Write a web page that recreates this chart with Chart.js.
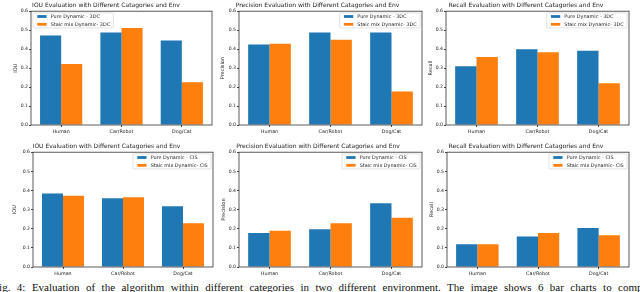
<!DOCTYPE html>
<html lang="en">
<head>
    <meta charset="UTF-8">
    <script src="https://cdn.jsdelivr.net/npm/chart.js"></script>
    <title>Evaluation bar charts</title>
    <style>
        body { margin: 0; width: 640px; height: 292px; background: #fff; overflow: hidden; position: relative; }
        canvas { position: absolute; }
        .caption {
            position: absolute; left: -7px; top: 281px; white-space: nowrap;
            font-family: "Liberation Serif", serif; font-size: 11px; word-spacing: 3.7px; color: #111;
        }
    </style>
</head>
<body>
    <canvas id="c1" width="213" height="136" style="left:0px;top:0px"></canvas>
    <canvas id="c2" width="210" height="136" style="left:213px;top:0px"></canvas>
    <canvas id="c3" width="207" height="136" style="left:423px;top:0px"></canvas>
    <canvas id="c4" width="214" height="137" style="left:0px;top:141px"></canvas>
    <canvas id="c5" width="209" height="137" style="left:214px;top:141px"></canvas>
    <canvas id="c6" width="207" height="137" style="left:423px;top:141px"></canvas>

    <div class="caption">Fig. 4: Evaluation of the algorithm within different categories in two different environment. The image shows 6 bar charts to compare</div>

    <script>
        // categories and values
        const categories = ['Human', 'Car/Robot', 'Dog/Cat'];

        const iou3dcPure  = [0.472, 0.488, 0.446];
        const iou3dcMix   = [0.322, 0.511, 0.226];
        const prec3dcPure = [0.425, 0.488, 0.488];
        const prec3dcMix  = [0.428, 0.449, 0.177];
        const rec3dcPure  = [0.310, 0.399, 0.392];
        const rec3dcMix   = [0.359, 0.383, 0.220];

        const iouCisPure  = [0.384, 0.359, 0.318];
        const iouCisMix   = [0.372, 0.365, 0.229];
        const precCisPure = [0.178, 0.197, 0.333];
        const precCisMix  = [0.190, 0.229, 0.257];
        const recCisPure  = [0.119, 0.159, 0.204];
        const recCisMix   = [0.119, 0.178, 0.166];

        const yMax = 0.6;
        const yStep = 0.1;

        const BLUE = '#1f77b4';
        const ORANGE = '#ff7f0e';
        const FONT = 'DejaVu Sans';

        // black frame round the plot area (matplotlib spines)
        const frame = {
            id: 'frame',
            afterDatasetsDraw(chart) {
                const { ctx, chartArea: a } = chart;
                ctx.save();
                ctx.strokeStyle = '#333';
                ctx.lineWidth = 0.8;
                ctx.strokeRect(a.left, a.top, a.right - a.left, a.bottom - a.top);
                ctx.restore();
            }
        };

        // matplotlib style legend box drawn inside the plot
        const boxLegend = {
            id: 'boxLegend',
            afterDatasetsDraw(chart, args, opts) {
                const { ctx, chartArea: a } = chart;
                const sets = chart.data.datasets;
                ctx.save();
                ctx.font = '4.9px "' + FONT + '"';
                const textW = Math.max(...sets.map(d => ctx.measureText(d.label).width));
                const w = textW + 21;
                const h = 15;
                const x = opts.corner === 'left' ? a.left + 2 : a.right - 2 - w;
                const y = a.top + 1.7;
                ctx.fillStyle = 'rgba(255,255,255,0.85)';
                ctx.strokeStyle = '#d0d0d0';
                ctx.lineWidth = 0.6;
                ctx.beginPath();
                ctx.roundRect(x, y, w, h, 1);
                ctx.fill();
                ctx.stroke();
                sets.forEach((d, i) => {
                    const cy = y + 3.6 + i * 7.8;
                    ctx.fillStyle = d.backgroundColor;
                    ctx.fillRect(x + 4.3, cy - 1.4, 9.3, 2.8);
                    ctx.fillStyle = '#222';
                    ctx.textBaseline = 'middle';
                    ctx.fillText(d.label, x + 17.7, cy + 0.2);
                });
                ctx.restore();
            }
        };

        function makeChart(id, title, yLabel, pure, mix, tag, corner, yWidth, yPad) {
            const ctx = document.getElementById(id).getContext('2d');
            return new Chart(ctx, {
                type: 'bar',
                data: {
                    labels: categories,
                    datasets: [
                        { label: 'Pure Dynamic - ' + tag, data: pure, backgroundColor: BLUE },
                        { label: 'Staic mix Dynamic- ' + tag, data: mix, backgroundColor: ORANGE },
                    ],
                },
                options: {
                    responsive: false,
                    animation: false,
                    devicePixelRatio: 1,
                    layout: { padding: { left: 0, right: 1, top: 0, bottom: 0 } },
                    datasets: { bar: { categoryPercentage: 0.7, barPercentage: 1.0, borderWidth: 0 } },
                    plugins: {
                        legend: { display: false },
                        tooltip: { enabled: false },
                        title: {
                            display: true,
                            text: title,
                            color: '#222',
                            font: { family: FONT, size: 6, weight: 'normal' },
                            padding: { top: 2, bottom: 2 },
                        },
                        boxLegend: { corner: corner },
                    },
                    scales: {
                        x: {
                            offset: true,
                            grid: { display: true, drawOnChartArea: false, offset: false, tickLength: 2, color: '#444' },
                            border: { display: false },
                            ticks: { color: '#222', padding: 1.5, maxRotation: 0, autoSkip: false, font: { family: FONT, size: 4.8 } },
                            afterFit: (s) => { s.height = 11; },
                        },
                        y: {
                            min: 0,
                            max: yMax,
                            grid: { display: true, drawOnChartArea: false, tickLength: 2, color: '#444' },
                            border: { display: false },
                            ticks: {
                                stepSize: yStep,
                                color: '#222',
                                padding: 1,
                                font: { family: FONT, size: 4.6 },
                                callback: (v) => Number(v).toFixed(1),
                            },
                            title: {
                                display: true,
                                text: yLabel,
                                color: '#222',
                                font: { family: FONT, size: 5 },
                                padding: { top: yPad, bottom: 0 },
                            },
                            afterFit: (s) => { s.width = yWidth; },
                        },
                    },
                },
                plugins: [frame, boxLegend],
            });
        }

        makeChart('c1', 'IOU Evaluation with Different Catagories and Env', 'IOU', iou3dcPure, iou3dcMix, '3DC', 'left', 31, 13);
        makeChart('c2', 'Precision Evaluation with Different Catagories and Env', 'Precision', prec3dcPure, prec3dcMix, '3DC', 'right', 26, 7);
        makeChart('c3', 'Recall Evaluation with Different Catagories and Env', 'Recall', rec3dcPure, rec3dcMix, '3DC', 'right', 23, 5);
        makeChart('c4', 'IOU Evaluation with Different Catagories and Env', 'IOU', iouCisPure, iouCisMix, 'CIS', 'right', 33, 12);
        makeChart('c5', 'Precision Evaluation with Different Catagories and Env', 'Precision', precCisPure, precCisMix, 'CIS', 'right', 25, 7);
        makeChart('c6', 'Recall Evaluation with Different Catagories and Env', 'Recall', recCisPure, recCisMix, 'CIS', 'right', 24, 6);
    </script>
</body>
</html>
